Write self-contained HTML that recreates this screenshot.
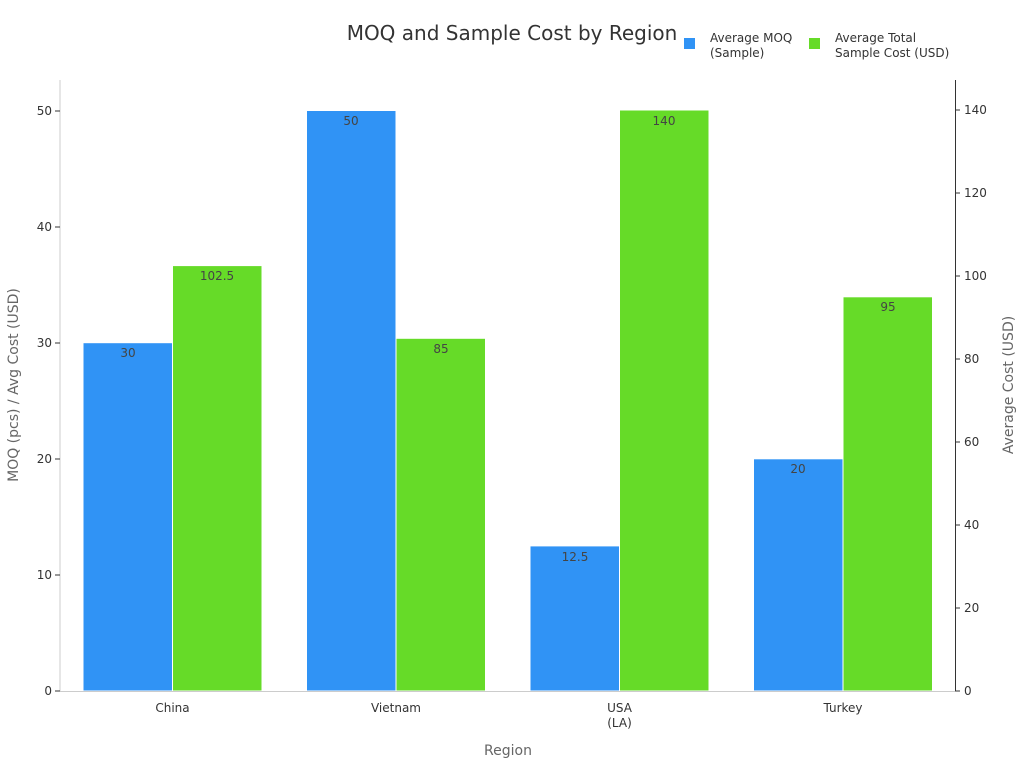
<!DOCTYPE html>
<html><head><style>body{margin:0;background:#fff}svg{display:block;font-family:"DejaVu Sans","Liberation Sans",sans-serif}</style></head>
<body>
<svg width="1024" height="768" xmlns="http://www.w3.org/2000/svg">
<text x="512" y="40" font-size="20" fill="#333" text-anchor="middle">MOQ and Sample Cost by Region</text>
<rect x="684" y="38" width="11" height="11" fill="#3093f5"/>
<text x="710" y="42" font-size="12" fill="#333">Average MOQ</text>
<text x="710" y="57" font-size="12" fill="#333">(Sample)</text>
<rect x="809" y="38" width="11" height="11" fill="#66db28"/>
<text x="835" y="42" font-size="12" fill="#333">Average Total</text>
<text x="835" y="57" font-size="12" fill="#333">Sample Cost (USD)</text>
<g stroke="#fff" stroke-width="1">
<rect x="83" y="342.7" width="89.5" height="348.3" fill="#3093f5"/>
<rect x="172.5" y="265.6" width="89.5" height="425.4" fill="#66db28"/>
<rect x="306.5" y="110.5" width="89.5" height="580.5" fill="#3093f5"/>
<rect x="396" y="338.3" width="89.5" height="352.7" fill="#66db28"/>
<rect x="530" y="545.9" width="89.5" height="145.1" fill="#3093f5"/>
<rect x="619.5" y="110" width="89.5" height="581" fill="#66db28"/>
<rect x="753.5" y="458.8" width="89.5" height="232.2" fill="#3093f5"/>
<rect x="843" y="296.8" width="89.5" height="394.2" fill="#66db28"/>
</g>
<g font-size="12" fill="#444" text-anchor="middle">
<text x="128" y="357">30</text><text x="217" y="280">102.5</text>
<text x="351" y="125">50</text><text x="441" y="353">85</text>
<text x="575" y="561">12.5</text><text x="664" y="125">140</text>
<text x="798" y="473">20</text><text x="888" y="311">95</text>
</g>
<line x1="60" y1="80" x2="60" y2="691" stroke="#ccc"/>
<line x1="60" y1="691.5" x2="955" y2="691.5" stroke="#ccc"/>
<line x1="955.5" y1="80" x2="955.5" y2="691" stroke="#333"/>
<g font-size="12" fill="#333" text-anchor="end">
<text x="52" y="695">0</text><text x="52" y="579">10</text><text x="52" y="463">20</text><text x="52" y="347">30</text><text x="52" y="231">40</text><text x="52" y="115">50</text>
</g>
<g stroke="#333"><line x1="55" y1="691" x2="60" y2="691"/><line x1="55" y1="575" x2="60" y2="575"/><line x1="55" y1="459" x2="60" y2="459"/><line x1="55" y1="343" x2="60" y2="343"/><line x1="55" y1="227" x2="60" y2="227"/><line x1="55" y1="111" x2="60" y2="111"/>
<line x1="955" y1="691" x2="960" y2="691"/><line x1="955" y1="608" x2="960" y2="608"/><line x1="955" y1="525" x2="960" y2="525"/><line x1="955" y1="442" x2="960" y2="442"/><line x1="955" y1="359" x2="960" y2="359"/><line x1="955" y1="276" x2="960" y2="276"/><line x1="955" y1="193" x2="960" y2="193"/><line x1="955" y1="110" x2="960" y2="110"/></g>
<g font-size="12" fill="#333">
<text x="964" y="695">0</text><text x="964" y="612">20</text><text x="964" y="529">40</text><text x="964" y="446">60</text><text x="964" y="363">80</text><text x="964" y="280">100</text><text x="964" y="197">120</text><text x="964" y="114">140</text>
</g>
<g font-size="12" fill="#333" text-anchor="middle">
<text x="172.5" y="712">China</text><text x="396" y="712">Vietnam</text><text x="619.5" y="712">USA</text><text x="619.5" y="727">(LA)</text><text x="843" y="712">Turkey</text>
</g>
<text x="508" y="755" font-size="14" fill="#666" text-anchor="middle">Region</text>
<text transform="translate(18,385) rotate(-90)" font-size="14" fill="#666" text-anchor="middle">MOQ (pcs) / Avg Cost (USD)</text>
<text transform="translate(1013,385) rotate(-90)" font-size="14" fill="#666" text-anchor="middle">Average Cost (USD)</text>
</svg>
</body></html>
